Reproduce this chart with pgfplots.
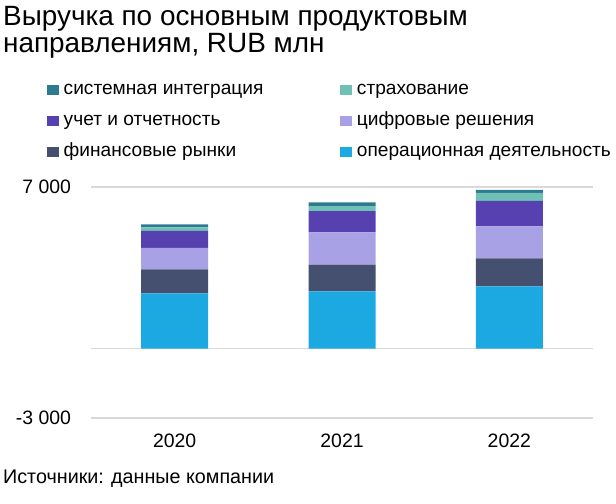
\documentclass[border=0pt]{standalone}
\usepackage{fontspec}
\setmainfont{Liberation Sans}
\usepackage{pgfplots}
\pgfplotsset{compat=1.18}
\definecolor{csys}{HTML}{2E7A90}
\definecolor{cins}{HTML}{6EC1B4}
\definecolor{cuch}{HTML}{5740B0}
\definecolor{cdig}{HTML}{A9A1E6}
\definecolor{cfin}{HTML}{454F6F}
\definecolor{cop}{HTML}{1CA9E1}
\definecolor{cgrid}{HTML}{D9D9D9}
\begin{document}
\begin{tikzpicture}[x=1bp,y=1bp]
\useasboundingbox (0,0) rectangle (616,504);
\node[anchor=base west, inner sep=0pt, font=\fontsize{28}{32}\selectfont] at (3,478) {Выручка по основным продуктовым};
\node[anchor=base west, inner sep=0pt, font=\fontsize{28}{32}\selectfont] at (3,451) {направлениям, RUB млн};
\node[anchor=base west, inner sep=0pt, font=\fontsize{19.8}{23}\selectfont] at (3,20) {Источники: данные компании};
\begin{axis}[
  at={(91bp,86bp)}, anchor=south west,
  scale only axis, width=502bp, height=231bp,
  xmin=-0.5, xmax=2.5, ymin=-3000, ymax=7000,
  ybar stacked, bar width=67bp,
  axis line style={draw=none}, major tick length=0pt,
  xtick={0,1,2}, xticklabels={2020,2021,2022},
  ytick={-3000,7000}, yticklabels={-3 000,7 000},
  extra y ticks={0}, extra y tick labels={},
  extra y tick style={grid=major},
  ymajorgrids, grid style={draw=cgrid, line width=1.5bp},
  tick label style={font=\fontsize{19.5}{22}\selectfont},
  xticklabel style={anchor=north, yshift=-12.5bp},
  yticklabel style={anchor=east, xshift=-16.5bp},
  reverse legend, legend columns=2, legend cell align=left,
  legend style={at={(-0.0876,1.463)}, anchor=north west, draw=none, fill=none,
    inner sep=0pt, font=\fontsize{19.2}{23}\selectfont, row sep=12bp,
    nodes={inner sep=0pt, text height=14bp, text depth=5bp},
    /tikz/every odd column/.append style={column sep=4.5bp},
    /tikz/every even column/.append style={column sep=77bp}},
]
\addplot[fill=cop, draw=none, legend image code/.code={\fill[cop] (0bp,-5.5bp) rectangle (12bp,5bp);}] coordinates {(0,2390) (1,2480) (2,2700)};
\addplot[fill=cfin, draw=none, legend image code/.code={\fill[cfin] (0bp,-5.5bp) rectangle (12bp,5bp);}] coordinates {(0,1045) (1,1160) (2,1215)};
\addplot[fill=cdig, draw=none, legend image code/.code={\fill[cdig] (0bp,-5.5bp) rectangle (12bp,5bp);}] coordinates {(0,930) (1,1390) (2,1380)};
\addplot[fill=cuch, draw=none, legend image code/.code={\fill[cuch] (0bp,-5.5bp) rectangle (12bp,5bp);}] coordinates {(0,740) (1,925) (2,1100)};
\addplot[fill=cins, draw=none, legend image code/.code={\fill[cins] (0bp,-5.5bp) rectangle (12bp,5bp);}] coordinates {(0,145) (1,215) (2,350)};
\addplot[fill=csys, draw=none, legend image code/.code={\fill[csys] (0bp,-5.5bp) rectangle (12bp,5bp);}] coordinates {(0,130) (1,160) (2,130)};
\legend{операционная деятельность,финансовые рынки,цифровые решения,учет и отчетность,страхование,системная интеграция}
\end{axis}
\end{tikzpicture}
\end{document}
